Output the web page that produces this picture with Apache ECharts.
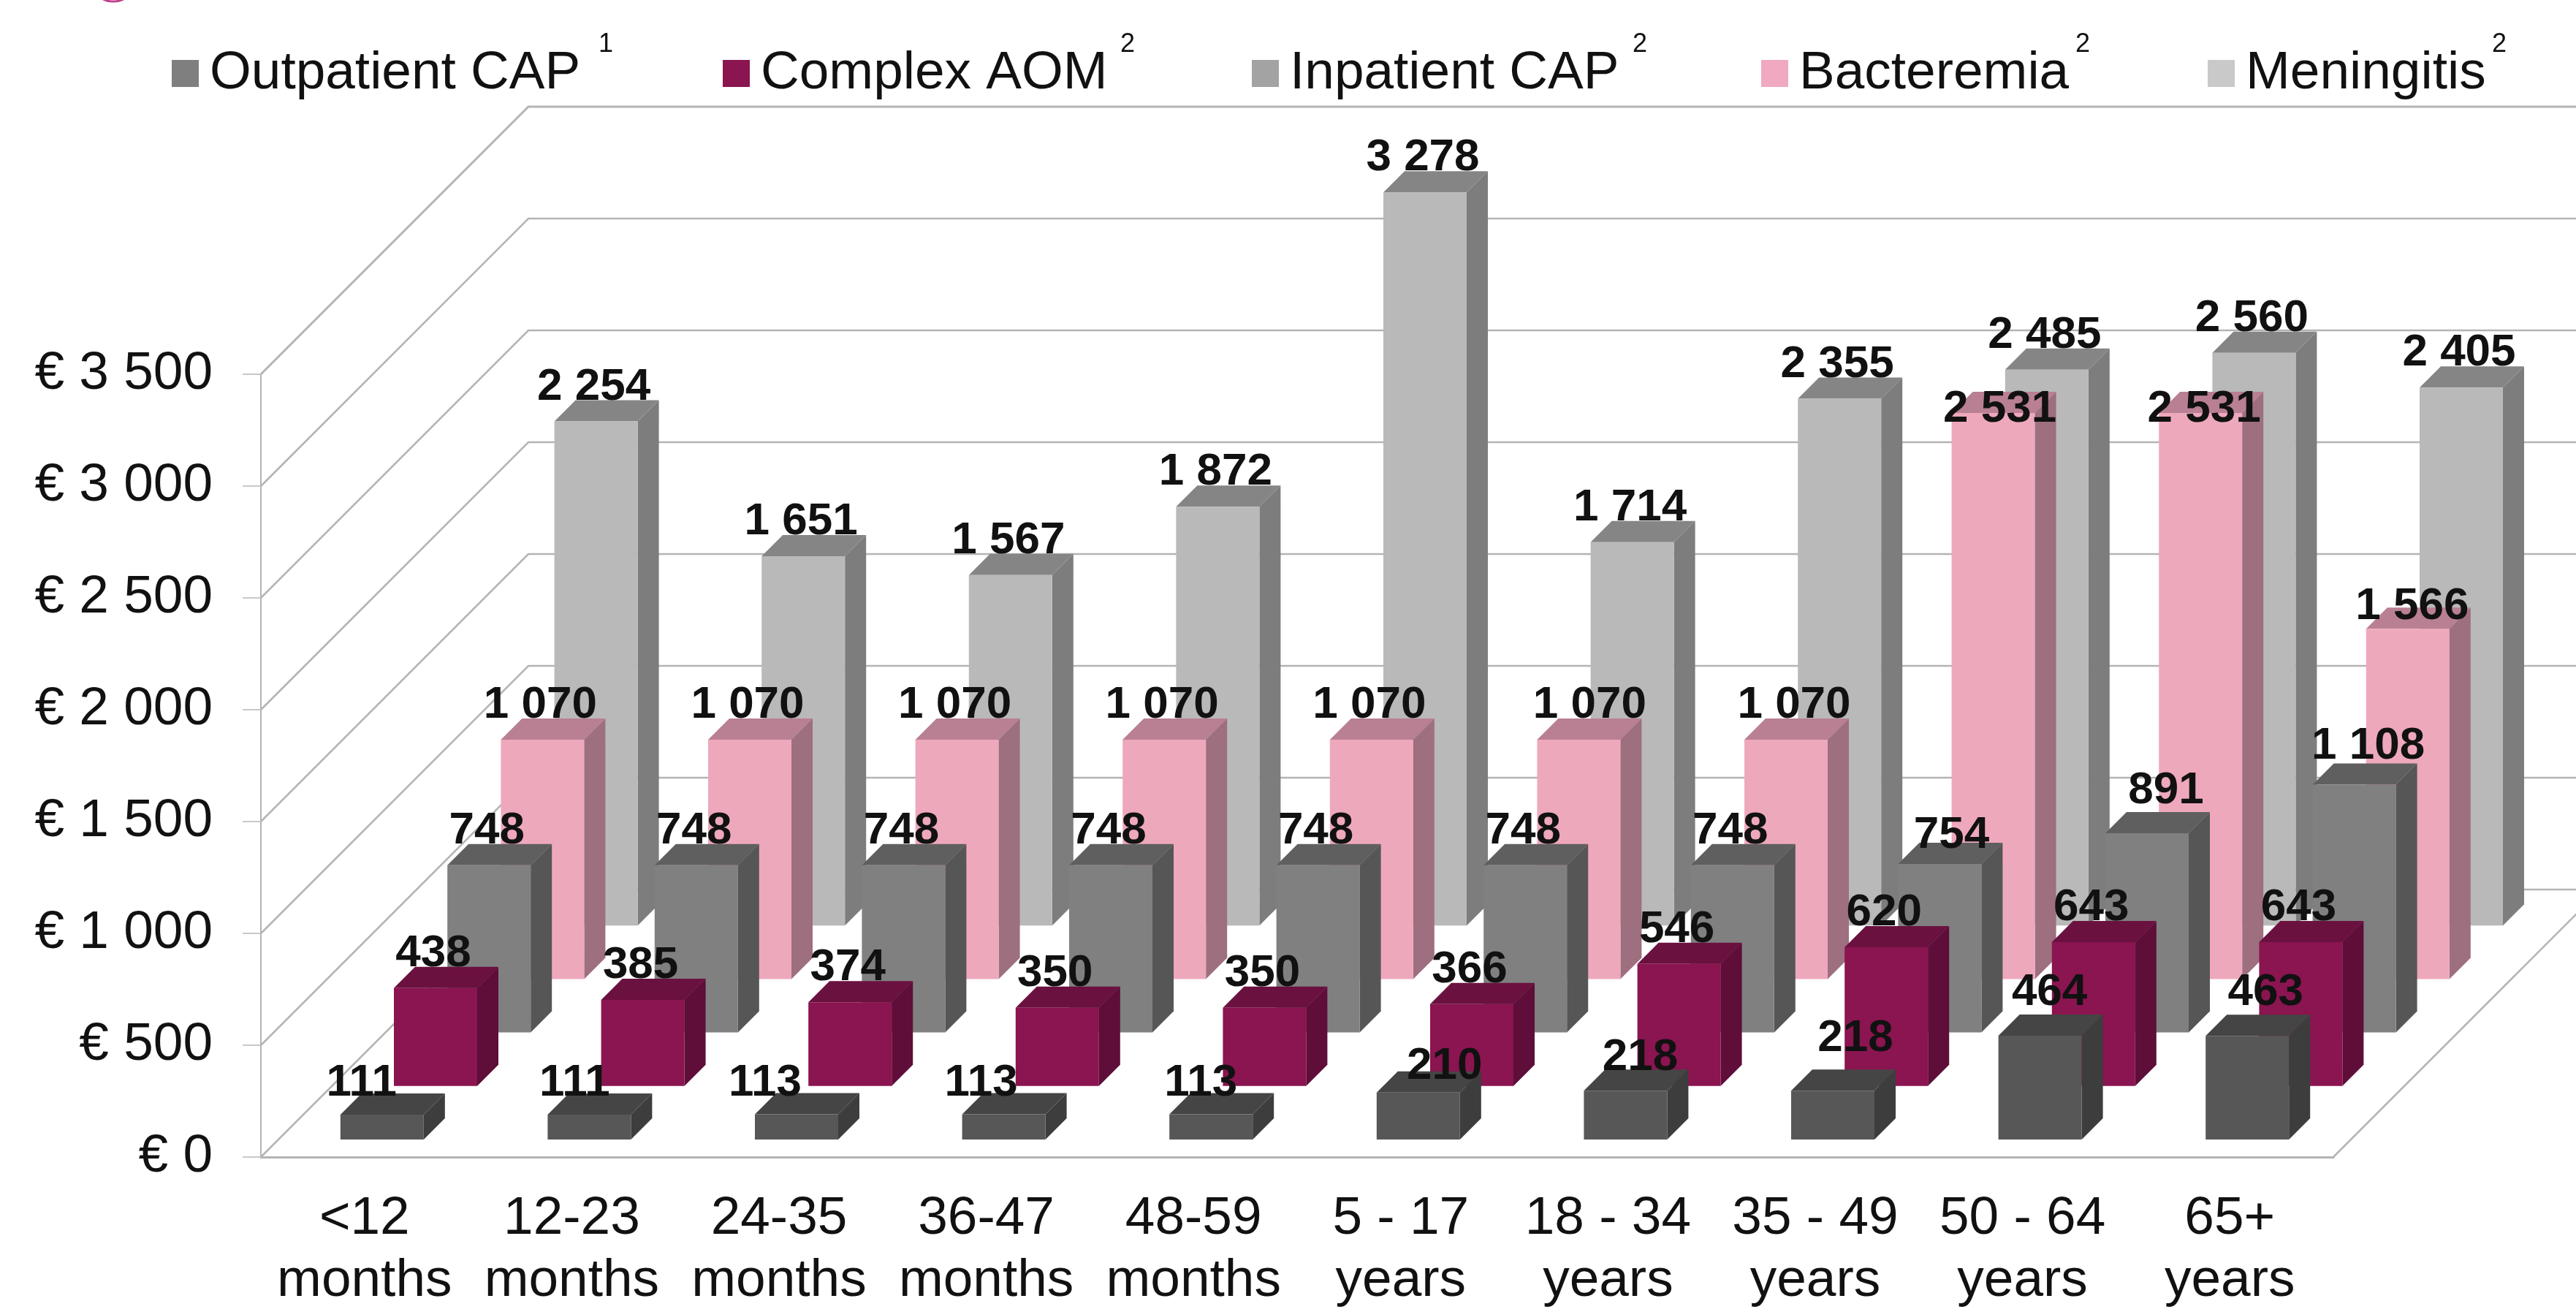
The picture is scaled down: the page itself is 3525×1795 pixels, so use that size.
<!DOCTYPE html>
<html lang="en">

<head>
    <meta charset="UTF-8" />
    <title>Cost per episode by age group</title>
    <style>
        html, body { margin: 0; padding: 0; background: #fff; }
        #chart { width: 3525px; height: 1795px; }
    </style>
</head>

<body>
    <div id="chart"></div>
    <script src="https://cdn.jsdelivr.net/npm/echarts@6/dist/echarts.min.js"></script>
    <script>
        const categories = ['<12\nmonths', '12-23\nmonths', '24-35\nmonths', '36-47\nmonths', '48-59\nmonths',
            '5 - 17\nyears', '18 - 34\nyears', '35 - 49\nyears', '50 - 64\nyears', '65+\nyears']
        const yTicks = [0, 500, 1000, 1500, 2000, 2500, 3000, 3500]

        const seriesNames = ['Outpatient CAP', 'Complex AOM', 'Inpatient CAP', 'Bacteremia', 'Meningitis']
        const superscripts = ['1', '2', '2', '2', '2']

        const outpatientCap = [111, 111, 113, 113, 113, 210, 218, 218, 464, 463]
        const complexAom = [438, 385, 374, 350, 350, 366, 546, 620, 643, 643]
        const inpatientCap = [748, 748, 748, 748, 748, 748, 748, 754, 891, 1108]
        const bacteremia = [1070, 1070, 1070, 1070, 1070, 1070, 1070, 2531, 2531, 1566]
        const meningitis = [2254, 1651, 1567, 1872, 3278, 1714, 2355, 2485, 2560, 2405]
        const seriesValues = [outpatientCap, complexAom, inpatientCap, bacteremia, meningitis]

        // front, top, side of each bar and legend swatch
        const faceColors = [
            ['#575757', '#454545', '#3d3d3d', '#7f7f7f'],
            ['#8a1550', '#6b1140', '#5e0e39', '#8a1550'],
            ['#808080', '#5f5f5f', '#565656', '#a3a3a3'],
            ['#eea8bc', '#b97f93', '#9d6f7f', '#f0a9c0'],
            ['#b9b9b9', '#858585', '#7d7d7d', '#c9c9c9']
        ]

        // layout, in pixels
        const WALL_DEPTH = 366
        const ROW_DEPTH = WALL_DEPTH / 5
        const ROW_GAP = 24
        const BAR_W = 114
        const BAR_DX = 29
        const BAR_DY = 29
        const LABEL_UP = 16
        const FONT = '"Liberation Sans", Arial, sans-serif'
        const legendLeft = [235, 989, 1713, 2410, 3021]
        const supLeft = [819, 1533, 2234, 2840, 3410]

        // hand placed data labels in the original: [dx, dy] from the default spot
        const labelNudge = {
            '0-0': [-28, 4], '0-1': [-20, 4], '0-2': [-43, 4], '0-3': [-31, 4], '0-4': [-14, 4],
            '0-5': [36, 11], '0-6': [20, 2], '0-7': [31, -24], '0-8': [13, -12], '0-9': [25, -12],
            '2-7': [16, 8], '2-8': [26, -11], '2-9': [19, -6],
            '3-5': [15, 0], '3-6': [11, 0], '3-7': [9, 42], '3-8': [5, 42], '3-9': [6, 17]
        }

        const chart = echarts.init(document.getElementById('chart'))

        function wallItem (params, api) {
            const v = api.value(0)
            const grid = params.coordSys
            const y = api.coord([0, v])[1]
            const lineStyle = { stroke: '#b4b4b4', lineWidth: v === 3500 ? 3 : 2.5, fill: null }
            const children = [{
                type: 'polyline',
                shape: {
                    points: [
                        [grid.x, y],
                        [grid.x + WALL_DEPTH, y - WALL_DEPTH],
                        [grid.x + grid.width + WALL_DEPTH, y - WALL_DEPTH]
                    ]
                },
                style: lineStyle
            }]
            if (v === 0) {
                children.push({
                    type: 'line',
                    shape: { x1: grid.x + grid.width, y1: y, x2: grid.x + grid.width + WALL_DEPTH, y2: y - WALL_DEPTH },
                    style: lineStyle
                })
            }
            return { type: 'group', children }
        }

        function barItem (row) {
            return function (params, api) {
                const i = api.value(0)
                const base = api.coord([i, 0])
                const top = api.coord([i, api.value(1)])
                const shift = ROW_GAP + ROW_DEPTH * row
                const x0 = base[0] - BAR_W / 2 + shift
                const x1 = x0 + BAR_W
                const yb = base[1] - shift
                const yt = top[1] - shift
                const c = faceColors[row]
                const nudge = labelNudge[row + '-' + i] || [-3, 0]
                return {
                    type: 'group',
                    children: [{
                        type: 'polygon',
                        shape: { points: [[x1, yb], [x1 + BAR_DX, yb - BAR_DY], [x1 + BAR_DX, yt - BAR_DY], [x1, yt]] },
                        style: { fill: c[2] }
                    }, {
                        type: 'polygon',
                        shape: { points: [[x0, yt], [x0 + BAR_DX, yt - BAR_DY], [x1 + BAR_DX, yt - BAR_DY], [x1, yt]] },
                        style: { fill: c[1] }
                    }, {
                        type: 'rect',
                        shape: { x: x0, y: yt, width: BAR_W, height: yb - yt },
                        style: { fill: c[0] }
                    }, {
                        type: 'text',
                        z2: 100,
                        style: {
                            x: x0 + BAR_W / 2 + nudge[0],
                            y: yt - LABEL_UP + nudge[1],
                            text: formatValue(api.value(1)),
                            fill: '#111',
                            font: 'bold 62px ' + FONT,
                            align: 'center',
                            verticalAlign: 'bottom'
                        }
                    }]
                }
            }
        }

        function formatValue (v) {
            return String(v).replace(/\B(?=(\d{3})+$)/g, ' ')
        }

        const series = [{
            name: 'walls',
            type: 'custom',
            silent: true,
            renderItem: wallItem,
            encode: { y: 0 },
            data: yTicks.map(v => [v])
        }]
        // back row first so the nearer rows paint over it
        for (let row = seriesNames.length - 1; row >= 0; row--) {
            series.push({
                name: seriesNames[row],
                type: 'custom',
                silent: true,
                renderItem: barItem(row),
                encode: { x: 0, y: 1 },
                itemStyle: { color: faceColors[row][3] },
                data: seriesValues[row].map((v, i) => [i, v])
            })
        }

        // superscripts sit too high for the legend text, so they are separate
        const graphics = superscripts.map((s, i) => ({
            type: 'text',
            left: supLeft[i],
            top: 43,
            style: { text: s, fill: '#111', font: '36px ' + FONT }
        }))
        // bit of a slide logo cut off by the top edge
        graphics.push({
            type: 'circle',
            shape: { cx: 155, cy: -30, r: 32 },
            style: { fill: null, stroke: '#c0408a', lineWidth: 3 }
        })

        chart.setOption({
            animation: false,
            backgroundColor: '#fff',
            textStyle: { fontFamily: FONT },
            legend: seriesNames.map((name, i) => ({
                left: legendLeft[i],
                top: 64,
                data: [{ name, icon: 'rect', itemStyle: { color: faceColors[i][3] } }],
                itemWidth: 37,
                itemHeight: 37,
                itemGap: 0,
                padding: 0,
                selectedMode: false,
                textStyle: { fontSize: 73, color: '#111', fontFamily: FONT, padding: [0, 0, 0, 10] }
            })),
            graphic: graphics,
            grid: { left: 357, right: 332, top: 512, bottom: 208 },
            xAxis: {
                type: 'category',
                data: categories,
                axisLine: { lineStyle: { color: '#b4b4b4', width: 3 } },
                axisTick: { length: 19, lineStyle: { color: '#b4b4b4', width: 2 } },
                axisLabel: { fontSize: 73, lineHeight: 85, color: '#111', margin: 42, interval: 0, fontFamily: FONT }
            },
            yAxis: {
                type: 'value',
                min: 0,
                max: 3500,
                interval: 500,
                splitLine: { show: false },
                axisLine: { show: true, lineStyle: { color: '#b4b4b4', width: 2 } },
                axisTick: { show: true, length: 25, lineStyle: { color: '#c8c8c8', width: 2 } },
                axisLabel: {
                    fontSize: 73,
                    color: '#111',
                    margin: 66,
                    fontFamily: FONT,
                    formatter: v => '€ ' + formatValue(v)
                }
            },
            series
        })
    </script>
</body>

</html>
